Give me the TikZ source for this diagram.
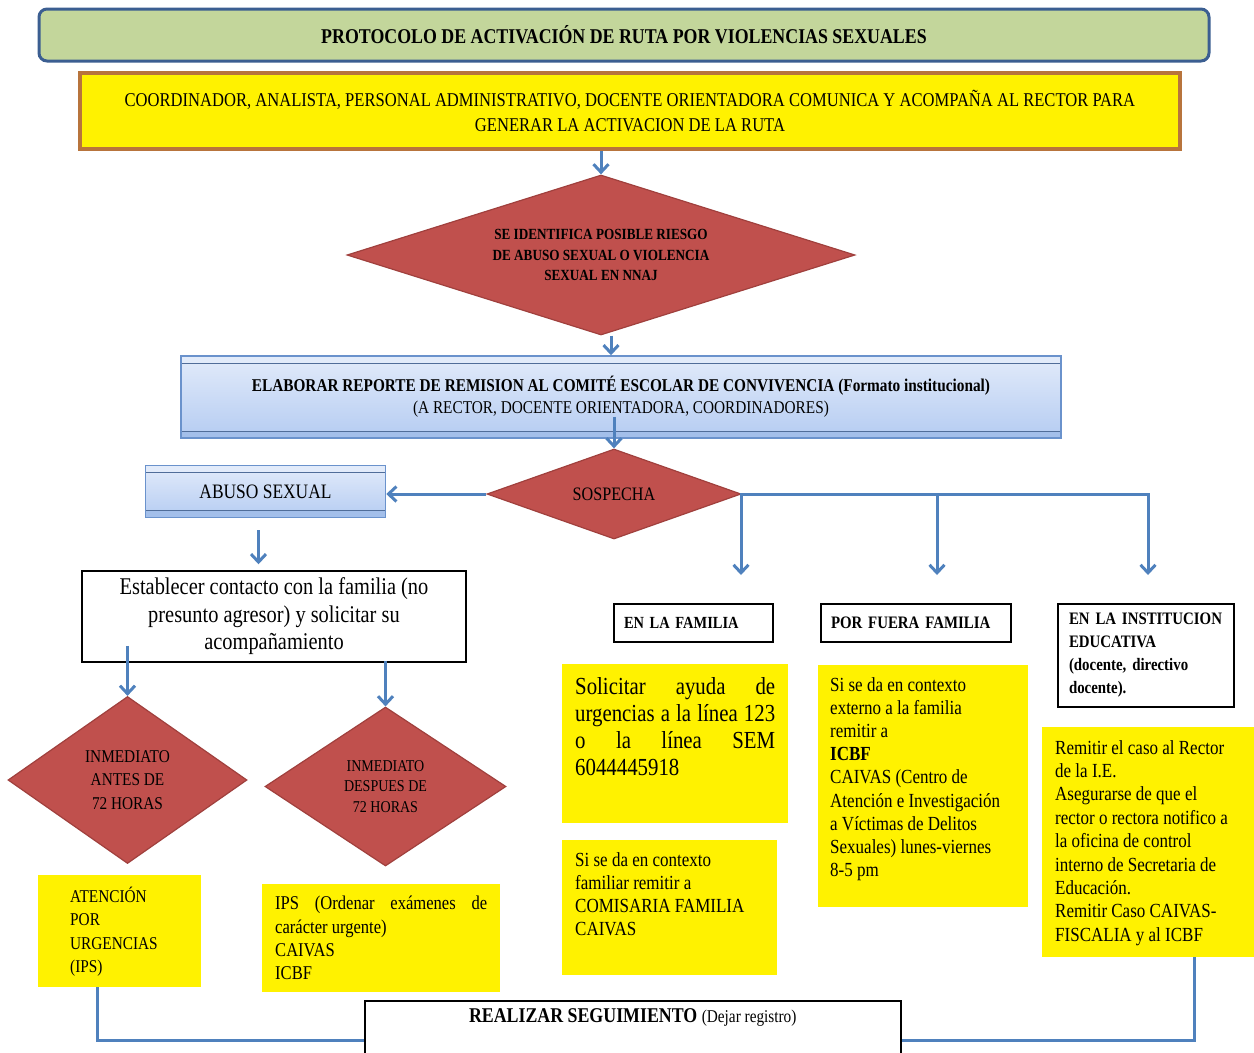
\documentclass[tikz,border=0pt]{standalone}
\usepackage{fontspec}
\setmainfont{Liberation Serif}[FakeStretch=0.85]
\usetikzlibrary{positioning,shapes.geometric,arrows.meta}

\definecolor{titlegreen}{HTML}{C3D69B}
\definecolor{titleblue}{HTML}{3B5E91}
\definecolor{coordorange}{HTML}{B8743C}
\definecolor{diared}{HTML}{C0504D}
\definecolor{diaborder}{HTML}{A0403D}
\definecolor{linkblue}{HTML}{4F81BD}
\definecolor{boxblue}{HTML}{6A92CC}
\definecolor{shadetop}{HTML}{E2EBFA}
\definecolor{shadebot}{HTML}{B5CCF2}
\definecolor{stripblue}{HTML}{A3BFEA}

\newcommand{\fsz}[2]{\fontsize{#1}{#2}\selectfont}

\tikzset{
  ttl/.style={rectangle, rounded corners=8pt, draw=titleblue, line width=3pt, fill=titlegreen, minimum width=1170pt, minimum height=52pt, font=\bfseries\fsz{21}{24}},
  cbox/.style={rectangle, draw=coordorange, line width=3.5pt, fill=yellow, minimum width=1100pt, minimum height=76pt, align=center, font=\fsz{19.5}{25}},
  dia/.style={diamond, draw=diaborder, line width=1.2pt, fill=diared, inner sep=0pt, align=center},
  bluebox/.style={rectangle, draw=boxblue, line width=1.5pt, top color=shadetop, bottom color=shadebot, align=center,
    path picture={
      \fill[stripblue] (path picture bounding box.south west) rectangle ([yshift=7pt]path picture bounding box.south east);
      \fill[shadetop] (path picture bounding box.north west) rectangle ([yshift=-7pt]path picture bounding box.north east);
      \draw[boxblue!75!black, line width=1pt] ([yshift=7pt]path picture bounding box.south west) -- ([yshift=7pt]path picture bounding box.south east);
      \draw[boxblue!75!black, line width=1pt] ([yshift=-7pt]path picture bounding box.north west) -- ([yshift=-7pt]path picture bounding box.north east);
    }},
  wbox/.style={rectangle, draw=black, line width=1.5pt, fill=white, inner sep=0pt},
  ybox/.style={rectangle, fill=yellow, inner sep=0pt, anchor=north west},
  conn/.style={draw=linkblue, line width=3pt},
  arr/.style={conn, ->},
  >={Straight Barb[length=8pt,width=15pt]}
}

\begin{document}
\begin{tikzpicture}[x=1pt, y=-1pt]
  \clip (0,0) rectangle (1254,1053);
  % cabecera
  \node[ttl] (title) at (624,35) {PROTOCOLO DE ACTIVACIÓN DE RUTA POR VIOLENCIAS SEXUALES};
  \node[cbox] (coord) at (630,111) {COORDINADOR, ANALISTA, PERSONAL ADMINISTRATIVO, DOCENTE ORIENTADORA COMUNICA Y ACOMPAÑA AL RECTOR PARA\\GENERAR LA ACTIVACION DE LA RUTA};
  \node[dia, minimum width=508pt, minimum height=160pt, aspect=3.175, font=\bfseries\fsz{15.5}{20.5}] (riesgo) at (601,255) {SE IDENTIFICA POSIBLE RIESGO\\DE ABUSO SEXUAL O VIOLENCIA\\SEXUAL EN NNAJ};
  \node[bluebox, minimum width=880pt, minimum height=82pt, font=\fsz{18}{22}] (reporte) at (621,397) {\textbf{ELABORAR REPORTE DE REMISION AL COMITÉ ESCOLAR DE CONVIVENCIA (Formato institucional)}\\(A RECTOR, DOCENTE ORIENTADORA, COORDINADORES)};
  \node[dia, minimum width=254pt, minimum height=90pt, aspect=2.82, font=\fsz{19}{22}] (sosp) at (614,494) {SOSPECHA};
  %
  % rama abuso sexual
  \node[bluebox, minimum width=240pt, minimum height=52pt, font=\fsz{20.5}{24}] (abuso) at (265.5,491.5) {ABUSO SEXUAL};
  \node[wbox, minimum width=384pt, minimum height=91pt, align=center, font=\fsz{24}{27.5}] (contacto) at (274,616.5) {Establecer contacto con la familia (no\\presunto agresor) y solicitar su\\acompañamiento};
  \node[dia, minimum width=239pt, minimum height=167pt, aspect=1.43, font=\fsz{18}{23.5}] (antes) at (127.5,780) {INMEDIATO\\ANTES DE\\72 HORAS};
  \node[dia, minimum width=241pt, minimum height=159pt, aspect=1.516, font=\fsz{16.5}{20.5}] (despues) at (385.5,786.5) {INMEDIATO\\DESPUES DE\\72 HORAS};
  \node[ybox, inner xsep=32pt, inner ysep=12pt, font=\fsz{18}{23.3}] (atencion) at (38,875) {\parbox[b][88pt][t]{99pt}{ATENCIÓN\\POR\\URGENCIAS\\(IPS)}};
  \node[ybox, inner xsep=13pt, inner ysep=12pt, font=\fsz{19.5}{23.3}] (ips) at (262,884) {\parbox[b][84pt][t]{212pt}{\makebox[\linewidth][s]{IPS (Ordenar exámenes de}\\carácter urgente)\\CAIVAS\\ICBF}};
  %
  % rama sospecha
  \node[wbox, minimum width=159pt, minimum height=38pt, inner xsep=10pt, text width=139pt, align=left, font=\bfseries\fsz{17}{23}] (fam) at (693.5,623) {EN LA FAMILIA};
  \node[wbox, minimum width=190pt, minimum height=38pt, inner xsep=10pt, text width=170pt, align=left, font=\bfseries\fsz{17.5}{23}] (fuera) at (916,623) {POR FUERA FAMILIA};
  \node[wbox, minimum width=176pt, minimum height=103pt, inner xsep=11pt, text width=154pt, align=left, font=\bfseries\fsz{17.5}{23}] (inst) at (1146,655.5) {EN LA INSTITUCION\\EDUCATIVA\\(docente, directivo\\docente).};
  \node[ybox, inner xsep=13pt, inner ysep=13pt, font=\fsz{24.5}{27}] (urgencias) at (562,664) {\parbox[b][133pt][t]{200pt}{\makebox[\linewidth][s]{Solicitar ayuda de}\\\makebox[\linewidth][s]{urgencias a la línea 123}\\\makebox[\linewidth][s]{o la línea SEM}\\6044445918}};
  \node[ybox, inner xsep=13pt, inner ysep=12pt, font=\fsz{20}{23.3}] (comisaria) at (562,840) {\parbox[b][111pt][t]{189pt}{Si se da en contexto\\familiar remitir a\\COMISARIA FAMILIA\\CAIVAS}};
  \node[ybox, inner xsep=12pt, inner ysep=12pt, font=\fsz{20}{23.2}] (externo) at (818,665) {\parbox[b][218pt][t]{186pt}{Si se da en contexto\\externo a la familia\\remitir a\\\textbf{ICBF}\\CAIVAS (Centro de\\Atención e Investigación\\a Víctimas de Delitos\\Sexuales) lunes-viernes\\8-5 pm}};
  \node[ybox, inner xsep=13pt, inner ysep=13pt, font=\fsz{20}{23.4}] (remitir) at (1042,727) {\parbox[b][204pt][t]{186pt}{Remitir el caso al Rector\\de la I.E.\\Asegurarse de que el\\rector o rectora notifico a\\la oficina de control\\interno de Secretaria de\\Educación.\\Remitir Caso CAIVAS-\\FISCALIA y al ICBF}};
  %
  \node[wbox, anchor=north west, inner ysep=8pt, font=\fsz{21}{24}] (seguim) at (364,1000) {\parbox[b][52pt][t]{536pt}{\centering\textbf{REALIZAR SEGUIMIENTO} {\fsz{18}{22}(Dejar registro)}}};
  %
  \coordinate (dropfam) at (741,575);
  \coordinate (dropfuera) at (937,575);
  \coordinate (dropinst) at (1148,575);
  %
  \draw[arr] (riesgo.north |- coord.south) -- (riesgo.north);
  \draw[arr] ([xshift=10pt]riesgo.south) -- ([xshift=10pt]riesgo.south |- reporte.north);
  \draw[arr] ([yshift=22pt]sosp.north |- reporte.south) -- (sosp.north);
  \draw[arr] (sosp.west) -- (sosp.west -| abuso.east);
  \draw[arr] (sosp.east) -| (dropfam);
  \draw[arr] (sosp.east -| dropfuera) -- (dropfuera);
  \draw[arr] (sosp.east) -| (dropinst);
  \draw[arr, shorten <=12pt, shorten >=6pt] ([xshift=-7pt]abuso.south) -- ([xshift=-7pt]abuso.south |- contacto.north);
  \draw[arr] ([yshift=17pt]antes.north |- contacto.south) -- (antes.north);
  \draw[arr] ([yshift=2pt]despues.north |- contacto.south) -- (despues.north);
  \draw[conn] ([xshift=-22.5pt]atencion.south) |- ([yshift=-6pt]seguim.west);
  \draw[conn] ([xshift=46pt]remitir.south) |- ([yshift=-6pt]seguim.east);
\end{tikzpicture}
\end{document}
